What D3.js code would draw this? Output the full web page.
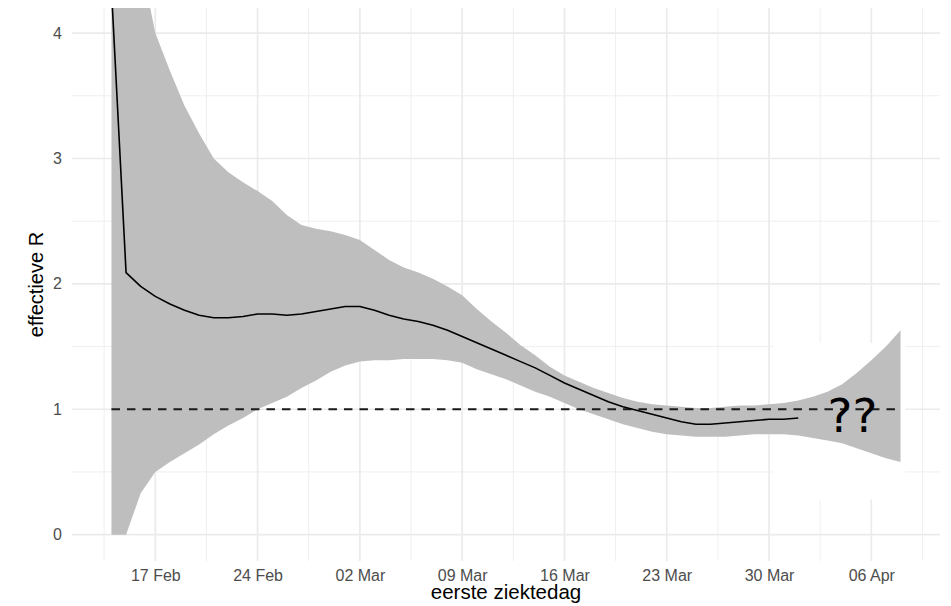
<!DOCTYPE html>
<html>
<head>
<meta charset="utf-8">
<script src="https://cdn.jsdelivr.net/npm/d3@7"></script>
<style>
  html, body { margin: 0; padding: 0; background: #fff; }
  svg { display: block; }
</style>
</head>
<body>
<svg id="chart" width="951" height="606"></svg>
<script>
// ---- data ----
const startDate = "2020-02-14";
const upper = [12, 6.5, 4.58, 4.0, 3.7, 3.42, 3.2, 3.0, 2.89, 2.81, 2.74, 2.66, 2.55, 2.47, 2.44, 2.42,
  2.39, 2.35, 2.27, 2.19, 2.13, 2.09, 2.04, 1.98, 1.91, 1.80, 1.70, 1.61, 1.51, 1.43, 1.34, 1.27, 1.22,
  1.17, 1.13, 1.09, 1.06, 1.04, 1.03, 1.02, 1.01, 1.01, 1.02, 1.03, 1.03, 1.04, 1.05,
  1.07, 1.10, 1.14, 1.20, 1.29, 1.39, 1.50, 1.63];
const lower = [0, 0, 0.33, 0.50, 0.58, 0.65, 0.72, 0.80, 0.87, 0.93, 1.0, 1.05, 1.10, 1.17, 1.23, 1.30,
  1.35, 1.38, 1.39, 1.39, 1.40, 1.40, 1.40, 1.39, 1.37, 1.32, 1.28, 1.24, 1.19, 1.14, 1.10, 1.05, 1.00,
  0.96, 0.92, 0.88, 0.85, 0.82, 0.80, 0.79, 0.78, 0.78, 0.78, 0.79, 0.80, 0.80, 0.80,
  0.79, 0.77, 0.75, 0.73, 0.69, 0.65, 0.61, 0.58];
const median = [4.35, 2.09, 1.98, 1.90, 1.84, 1.79, 1.75, 1.73, 1.73, 1.74, 1.76, 1.76, 1.75, 1.76, 1.78, 1.80,
  1.82, 1.82, 1.79, 1.75, 1.72, 1.70, 1.67, 1.63, 1.58, 1.53, 1.48, 1.43, 1.38, 1.33, 1.27, 1.21, 1.16,
  1.11, 1.06, 1.02, 0.99, 0.96, 0.93, 0.90, 0.88, 0.88, 0.89, 0.90, 0.91, 0.92, 0.92, 0.93];
const refLevel = 1;
const xTickLabels = ["17 Feb", "24 Feb", "02 Mar", "09 Mar", "16 Mar", "23 Mar", "30 Mar", "06 Apr"];
const yTicks = [0, 1, 2, 3, 4];
const yMinorTicks = [0.5, 1.5, 2.5, 3.5];
const xTitle = "eerste ziektedag";
const yTitle = "effectieve R";
const annotation = "??";

// ---- layout ----
const P = { left: 72, right: 940, top: 8, bottom: 561 };
const svg = d3.select("#chart");

const parse = d3.utcParse("%Y-%m-%d");
const d0 = parse(startDate);
const dates = upper.map((_, i) => d3.utcDay.offset(d0, i));
const dFirst = dates[0], dLast = dates[dates.length - 1];
const span = dLast - dFirst;
const x = d3.scaleTime()
  .domain([new Date(+dFirst - span * 0.05), new Date(+dLast + span * 0.05)])
  .range([P.left, P.right]);
const y = d3.scaleLinear().domain([-0.21, 4.2]).range([P.bottom, P.top]);

const parseTick = d3.utcParse("%d %b %Y");
const xTickDates = xTickLabels.map(s => parseTick(s + " 2020"));
const halfWeek = 3.5 * 864e5;
const xMinor = [new Date(+xTickDates[0] - halfWeek)].concat(xTickDates.map(d => new Date(+d + halfWeek)));

// ---- grid ----
const grid = svg.append("g");
grid.selectAll("line.hmin").data(yMinorTicks).join("line")
  .attr("x1", P.left).attr("x2", P.right)
  .attr("y1", d => y(d)).attr("y2", d => y(d))
  .attr("stroke", "#efefef").attr("stroke-width", 1);
grid.selectAll("line.vmin").data(xMinor).join("line")
  .attr("y1", P.top).attr("y2", P.bottom)
  .attr("x1", d => x(d)).attr("x2", d => x(d))
  .attr("stroke", "#efefef").attr("stroke-width", 1);
grid.selectAll("line.hmaj").data(yTicks).join("line")
  .attr("x1", P.left).attr("x2", P.right)
  .attr("y1", d => y(d)).attr("y2", d => y(d))
  .attr("stroke", "#ebebeb").attr("stroke-width", 1.7);
grid.selectAll("line.vmaj").data(xTickDates).join("line")
  .attr("y1", P.top).attr("y2", P.bottom)
  .attr("x1", d => x(d)).attr("x2", d => x(d))
  .attr("stroke", "#ebebeb").attr("stroke-width", 1.7);

// white pasted patch (hides grid in the annotated region)
const patchX0 = d3.utcHour.offset(parse("2020-03-30"), 6);
const patchX1 = d3.utcHour.offset(parse("2020-04-08"), 8);
svg.append("rect")
  .attr("x", x(patchX0)).attr("width", x(patchX1) - x(patchX0))
  .attr("y", y(1.53)).attr("height", y(0.28) - y(1.53))
  .attr("fill", "#fff");

// ---- clip ----
svg.append("clipPath").attr("id", "panel").append("rect")
  .attr("x", P.left).attr("y", P.top).attr("width", P.right - P.left).attr("height", P.bottom - P.top);
const plot = svg.append("g").attr("clip-path", "url(#panel)");

// ribbon
const area = d3.area()
  .x((d, i) => x(dates[i]))
  .y0((d, i) => y(lower[i]))
  .y1((d, i) => y(upper[i]));
plot.append("path").datum(upper).attr("d", area).attr("fill", "#bebebe");

// "??" annotation
const annDate = d3.utcHour.offset(parse("2020-04-04"), 17);
svg.append("text")
  .attr("x", x(annDate)).attr("y", y(0.82))
  .attr("text-anchor", "middle")
  .attr("font-family", "DejaVu Sans")
  .attr("font-size", 47)
  .attr("fill", "#000")
  .text(annotation);

// reference dashed line
plot.append("line")
  .attr("x1", x(dFirst)).attr("x2", x(dLast))
  .attr("y1", y(refLevel)).attr("y2", y(refLevel))
  .attr("stroke", "#1a1a1a").attr("stroke-width", 1.8)
  .attr("stroke-dasharray", "8.5,7");

// median line
const line = d3.line().x((d, i) => x(dates[i])).y(d => y(d));
plot.append("path").datum(median).attr("d", line)
  .attr("fill", "none").attr("stroke", "#000").attr("stroke-width", 1.6)
  .attr("stroke-linejoin", "round");

// ---- axes ----
const fmt = d3.utcFormat("%d %b");
const xAxis = svg.append("g").attr("transform", `translate(0,${P.bottom})`)
  .call(d3.axisBottom(x).tickValues(xTickDates).tickFormat(fmt).tickSize(0).tickPadding(8.4));
xAxis.select(".domain").remove();
xAxis.selectAll("text").attr("font-family", "Liberation Sans, Arial, sans-serif")
  .attr("font-size", 16).attr("fill", "#4d4d4d");

const yAxis = svg.append("g").attr("transform", `translate(${P.left},0)`)
  .call(d3.axisLeft(y).tickValues(yTicks).tickFormat(d3.format("d")).tickSize(0).tickPadding(10));
yAxis.select(".domain").remove();
yAxis.selectAll("text").attr("font-family", "Liberation Sans, Arial, sans-serif")
  .attr("font-size", 16).attr("fill", "#4d4d4d");

svg.append("text")
  .attr("x", (P.left + P.right) / 2).attr("y", 599)
  .attr("text-anchor", "middle")
  .attr("font-family", "Liberation Sans, Arial, sans-serif")
  .attr("font-size", 20.5).attr("fill", "#000")
  .text(xTitle);

svg.append("text")
  .attr("transform", `translate(43,${(P.top + P.bottom) / 2}) rotate(-90)`)
  .attr("text-anchor", "middle")
  .attr("font-family", "Liberation Sans, Arial, sans-serif")
  .attr("font-size", 20).attr("fill", "#000")
  .text(yTitle);
</script>
</body>
</html>
